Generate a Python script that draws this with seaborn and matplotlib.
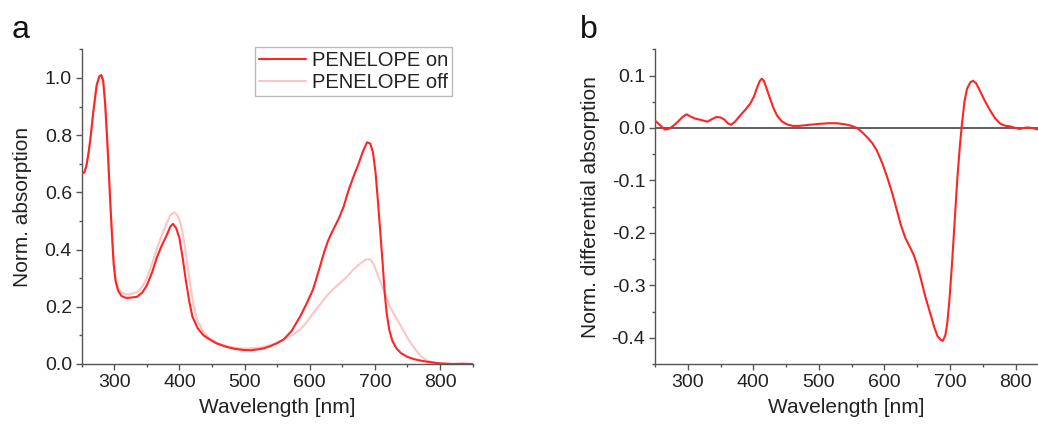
import matplotlib
matplotlib.use("Agg")
import matplotlib.pyplot as plt
import seaborn as sns
import pandas as pd
from matplotlib.ticker import MultipleLocator

# ---------------- data ----------------
wl_on = [250, 254, 257, 260, 263, 268, 273, 277, 280, 283, 286, 289, 291, 294, 296, 299, 302, 306, 311, 318,
         325, 335, 343, 350, 358, 365, 373, 380, 386, 390, 395, 400, 405, 410, 415, 420, 428, 437, 447, 457,
         472, 485, 498, 510, 520, 530, 540, 550, 560, 572, 585, 595, 605, 615, 622, 628, 635, 645, 652, 660,
         668, 675, 682, 688, 693, 697, 701, 705, 709, 712, 715, 718, 722, 727, 733, 740, 750, 760, 770, 780,
         790, 800, 810, 820, 835, 850]
abs_on = [0.665, 0.67, 0.69, 0.73, 0.78, 0.885, 0.975, 1.005, 1.01, 0.99, 0.91, 0.79, 0.70, 0.56, 0.47, 0.35,
          0.29, 0.255, 0.238, 0.231, 0.232, 0.235, 0.25, 0.275, 0.32, 0.37, 0.415, 0.448, 0.48, 0.49, 0.475,
          0.44, 0.37, 0.29, 0.22, 0.165, 0.125, 0.10, 0.085, 0.072, 0.06, 0.053, 0.049, 0.048, 0.051, 0.055,
          0.063, 0.073, 0.086, 0.115, 0.165, 0.21, 0.26, 0.335, 0.39, 0.43, 0.465, 0.51, 0.55, 0.61, 0.66,
          0.70, 0.745, 0.775, 0.77, 0.74, 0.67, 0.56, 0.44, 0.35, 0.25, 0.18, 0.12, 0.08, 0.055, 0.038, 0.025,
          0.017, 0.012, 0.008, 0.005, 0.002, 0.001, 0.0, 0.001, 0.0]

wl_off = [250, 254, 257, 260, 263, 268, 273, 277, 280, 283, 286, 289, 291, 294, 296, 299, 302, 306, 311, 318,
          325, 335, 343, 350, 358, 365, 373, 380, 386, 392, 397, 402, 407, 412, 417, 422, 428, 437, 447, 457,
          472, 485, 498, 510, 520, 530, 540, 550, 560, 572, 585, 595, 605, 615, 625, 635, 646, 655, 667, 677,
          687, 693, 698, 703, 708, 715, 723, 733, 743, 753, 764, 772, 780, 790, 800, 810, 820, 835, 850]
abs_off = [0.665, 0.67, 0.69, 0.73, 0.78, 0.885, 0.975, 1.005, 1.01, 0.99, 0.91, 0.79, 0.70, 0.56, 0.48, 0.37,
           0.30, 0.265, 0.25, 0.243, 0.245, 0.25, 0.27, 0.30, 0.35, 0.40, 0.45, 0.49, 0.52, 0.53, 0.52, 0.49,
           0.43, 0.35, 0.27, 0.20, 0.15, 0.11, 0.088, 0.075, 0.063, 0.057, 0.054, 0.055, 0.057, 0.06, 0.066,
           0.075, 0.085, 0.10, 0.12, 0.145, 0.177, 0.205, 0.235, 0.26, 0.282, 0.30, 0.33, 0.35, 0.366, 0.365,
           0.35, 0.32, 0.29, 0.25, 0.20, 0.16, 0.12, 0.08, 0.045, 0.025, 0.012, 0.005, 0.002, 0.001, 0.0, 0.0, 0.0]

wl_diff = [250, 258, 265, 270, 277, 285, 292, 298, 304, 311, 318, 324, 330, 337, 344, 350, 356, 361, 366, 372,
           380, 388, 395, 401, 406, 410, 413, 416, 420, 425, 430, 436, 443, 451, 460, 470, 485, 502, 515, 528,
           540, 550, 558, 566, 573, 581, 588, 596, 604, 612, 619, 625, 632, 640, 645, 650, 655, 662, 670, 676,
           681, 686, 689, 693, 696, 699, 703, 707, 711, 715, 718, 722, 726, 731, 735, 740, 746, 753, 761, 769,
           777, 785, 792, 800, 806, 812, 818, 825, 835]
diff = [0.014, 0.005, -0.003, -0.002, 0.003, 0.012, 0.021, 0.026, 0.022, 0.018, 0.016, 0.014, 0.012, 0.017,
        0.021, 0.02, 0.016, 0.009, 0.006, 0.012, 0.024, 0.035, 0.046, 0.06, 0.078, 0.09, 0.094, 0.09, 0.076,
        0.058, 0.04, 0.024, 0.013, 0.007, 0.004, 0.004, 0.006, 0.008, 0.009, 0.009, 0.007, 0.004, 0.0, -0.008,
        -0.017, -0.028, -0.042, -0.065, -0.093, -0.125, -0.157, -0.185, -0.21, -0.23, -0.243, -0.262, -0.285,
        -0.32, -0.354, -0.38, -0.397, -0.404, -0.406, -0.395, -0.37, -0.33, -0.26, -0.18, -0.1, -0.035, 0.005,
        0.05, 0.075, 0.087, 0.09, 0.085, 0.07, 0.052, 0.034, 0.018, 0.008, 0.004, 0.003, 0.0, -0.002, 0.0,
        0.001, 0.0, -0.003]

series_labels = ["PENELOPE on", "PENELOPE off"]
x_label = "Wavelength [nm]"
y_label_a = "Norm. absorption"
y_label_b = "Norm. differential absorption"

# ---------------- style ----------------
sns.set_theme(style="ticks")
plt.rcParams["font.family"] = ["Liberation Sans", "DejaVu Sans"]
plt.rcParams["axes.unicode_minus"] = False
TXT = "#222222"
SPINE = "#555555"
RED = "#ff2424"
PINK = "#ffc4c4"

fig = plt.figure(figsize=(10.38, 4.24), dpi=100)
ax_a = fig.add_axes([81.7 / 1038, 60 / 424, (472.6 - 81.7) / 1038, (364 - 49.3) / 424])
ax_b = fig.add_axes([655 / 1038, 60 / 424, (1038.5 - 655) / 1038, (364 - 49.3) / 424])

df_on = pd.DataFrame({"wl": wl_on, "val": abs_on})
df_off = pd.DataFrame({"wl": wl_off, "val": abs_off})
df_diff = pd.DataFrame({"wl": wl_diff, "val": diff})

sns.lineplot(data=df_off, x="wl", y="val", ax=ax_a, color=PINK, lw=1.5, label=series_labels[1], zorder=2)
sns.lineplot(data=df_on, x="wl", y="val", ax=ax_a, color=RED, lw=1.5, label=series_labels[0], zorder=3)

ax_b.axhline(0, color="#333333", lw=1.1, zorder=1)
sns.lineplot(data=df_diff, x="wl", y="val", ax=ax_b, color=RED, lw=1.5, zorder=3)

ax_a.set_xlim(250, 850)
ax_a.set_ylim(0, 1.1)
ax_a.xaxis.set_minor_locator(MultipleLocator(50))
ax_a.yaxis.set_major_locator(MultipleLocator(0.2))
ax_a.yaxis.set_minor_locator(MultipleLocator(0.1))
ax_a.set_xticks([300, 400, 500, 600, 700, 800])

ax_b.set_xlim(250, 835)
ax_b.set_ylim(-0.45, 0.15)
ax_b.xaxis.set_minor_locator(MultipleLocator(50))
ax_b.set_xticks([300, 400, 500, 600, 700, 800])
ax_b.set_yticks([-0.4, -0.3, -0.2, -0.1, 0.0, 0.1])
ax_b.yaxis.set_minor_locator(MultipleLocator(0.05))

for ax, yl, lp in [(ax_a, y_label_a, 9), (ax_b, y_label_b, 8)]:
    sns.despine(ax=ax)
    for s in ["left", "bottom"]:
        ax.spines[s].set_color(SPINE)
        ax.spines[s].set_linewidth(1.0)
    ax.tick_params(which="major", direction="out", length=4, width=1, color=SPINE,
                   labelsize=14, labelcolor=TXT, pad=3)
    ax.tick_params(which="minor", direction="out", length=2.4, width=1, color=SPINE)
    ax.set_xlabel(x_label, fontsize=15, color=TXT, labelpad=5)
    ax.set_ylabel(yl, fontsize=15, color=TXT, labelpad=lp)

ax_a.yaxis.set_major_formatter(matplotlib.ticker.FormatStrFormatter("%.1f"))
ax_b.yaxis.set_major_formatter(matplotlib.ticker.FormatStrFormatter("%.1f"))

handles, labels = ax_a.get_legend_handles_labels()
order = [labels.index(series_labels[0]), labels.index(series_labels[1])]
leg = ax_a.legend([handles[i] for i in order], [labels[i] for i in order],
                  loc="upper right", bbox_to_anchor=(0.947, 1.006), borderaxespad=0,
                  fontsize=14.5, frameon=True, fancybox=False, edgecolor="#aaaaaa",
                  handlelength=2.3, handletextpad=0.3, borderpad=0.2, labelspacing=0.15)
leg.get_frame().set_linewidth(1.0)
for t in leg.get_texts():
    t.set_color(TXT)

fig.text(12 / 1038, 1 - 38 / 424, "a", fontsize=23, color="#111111", va="baseline")
fig.text(580 / 1038, 1 - 38 / 424, "b", fontsize=23, color="#111111", va="baseline")

fig.savefig("out.png", dpi=100)
